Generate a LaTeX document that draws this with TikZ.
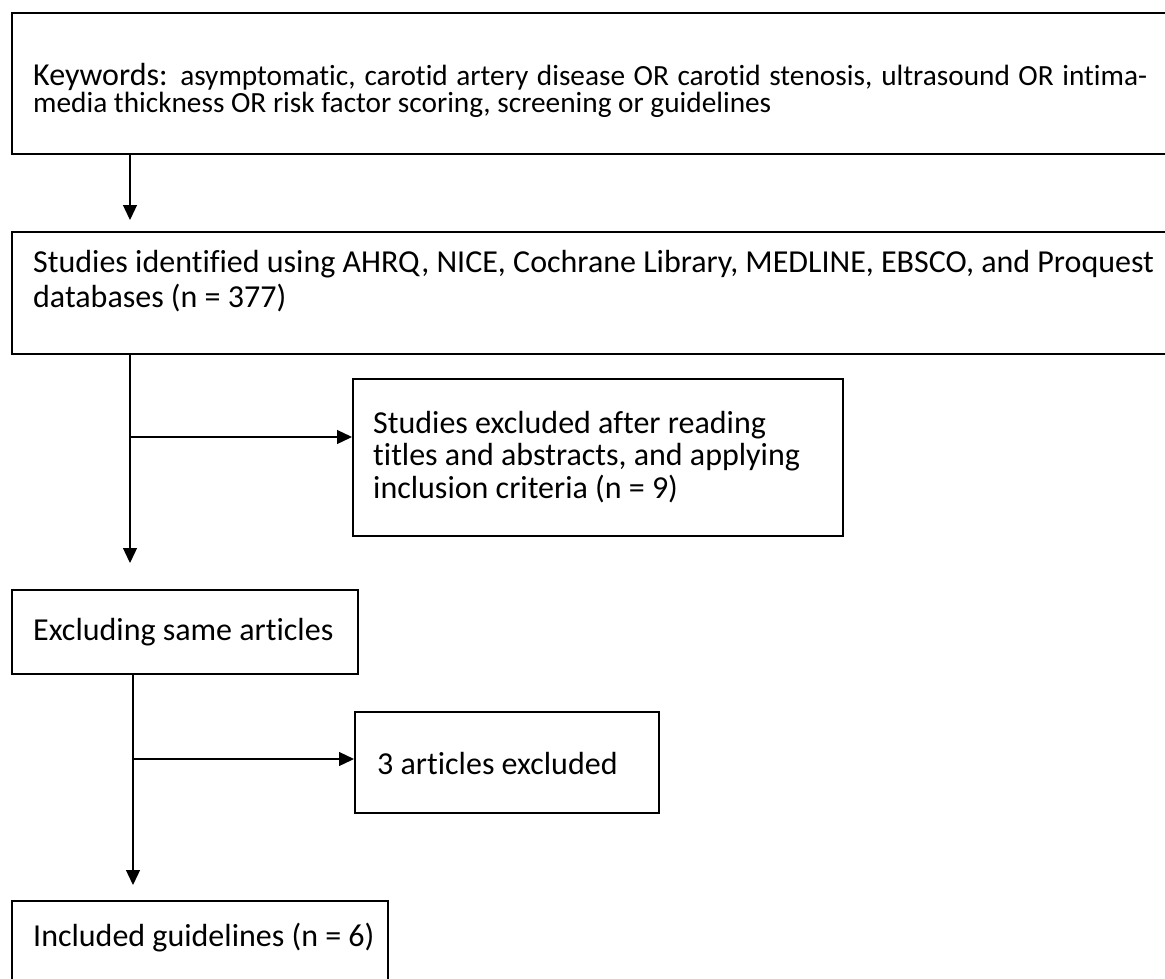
\documentclass[tikz,border=0pt]{standalone}
\usepackage{fontspec}
\setmainfont[Ligatures=NoCommon]{Carlito}
\usetikzlibrary{arrows.meta,calc}
\begin{document}
\begin{tikzpicture}[x=1pt,y=-1pt,
  box/.style={draw, line width=2pt, rectangle, inner sep=0pt, anchor=north west},
  txt/.style={inner sep=0pt, align=left, anchor=west, font=\fontsize{32}{35}\selectfont},
  arr/.style={line width=1.3pt, -{Triangle[length=15pt,width=14pt]}},
  ln/.style={line width=1.3pt}]
\useasboundingbox (0,0) rectangle (1165,978);
\clip (0,0) rectangle (1165,978);
\fill[white] (0,0) rectangle (1165,978);
% boxes
\node[box, minimum width=1169pt, minimum height=141pt] (b1) at (11,12) {};
\node[box, minimum width=1169pt, minimum height=122pt] (b2) at (11,231) {};
\node[box, minimum width=490pt, minimum height=157pt] (b3) at (352,378) {};
\node[box, minimum width=346pt, minimum height=84pt] (b4) at (11,589) {};
\node[box, minimum width=304pt, minimum height=101pt] (b5) at (354,711) {};
\node[box, minimum width=376pt, minimum height=100pt] (b6) at (11,900) {};
% texts
\node[txt, font=\fontsize{29.3}{27}\selectfont] (t1) at (33,90) {\makebox[1114pt][s]{{\fontsize{32}{27}\selectfont Keywords:} asymptomatic, carotid artery disease OR carotid stenosis, ultrasound OR intima-}\\media thickness OR risk factor scoring, screening or guidelines};
\node[txt] (t2) at (33,281) {Studies identified using AHRQ, NICE, Cochrane Library, MEDLINE, EBSCO, and Proquest\\databases (n = 377)};
\node[txt, font=\fontsize{32}{32.5}\selectfont] (t3) at (373,457) {Studies excluded after reading\\titles and abstracts, and applying\\inclusion criteria (n = 9)};
\node[txt] (t4) at (33,632) {Excluding same articles};
\node[txt] (t5) at (377,763) {3 articles excluded};
\node[txt] (t6) at (33,938) {Included guidelines (n = 6)};
% connectors
\coordinate (x1) at (130,0);
\coordinate (x2) at (133,0);
\draw[arr] (b1.south -| x1) -- ($(b2.north -| x1)+(0,-11)$);
\draw[arr] (b2.south -| x1) -- ($(b4.north -| x1)+(0,-26)$);
\coordinate (j1) at (130,437);
\draw[arr] (j1) -- (j1 -| b3.west);
\draw[arr] (b4.south -| x2) -- ($(b6.north -| x2)+(0,-15)$);
\coordinate (j2) at (133,759);
\draw[arr] (j2) -- (j2 -| b5.west);
\end{tikzpicture}
\end{document}
